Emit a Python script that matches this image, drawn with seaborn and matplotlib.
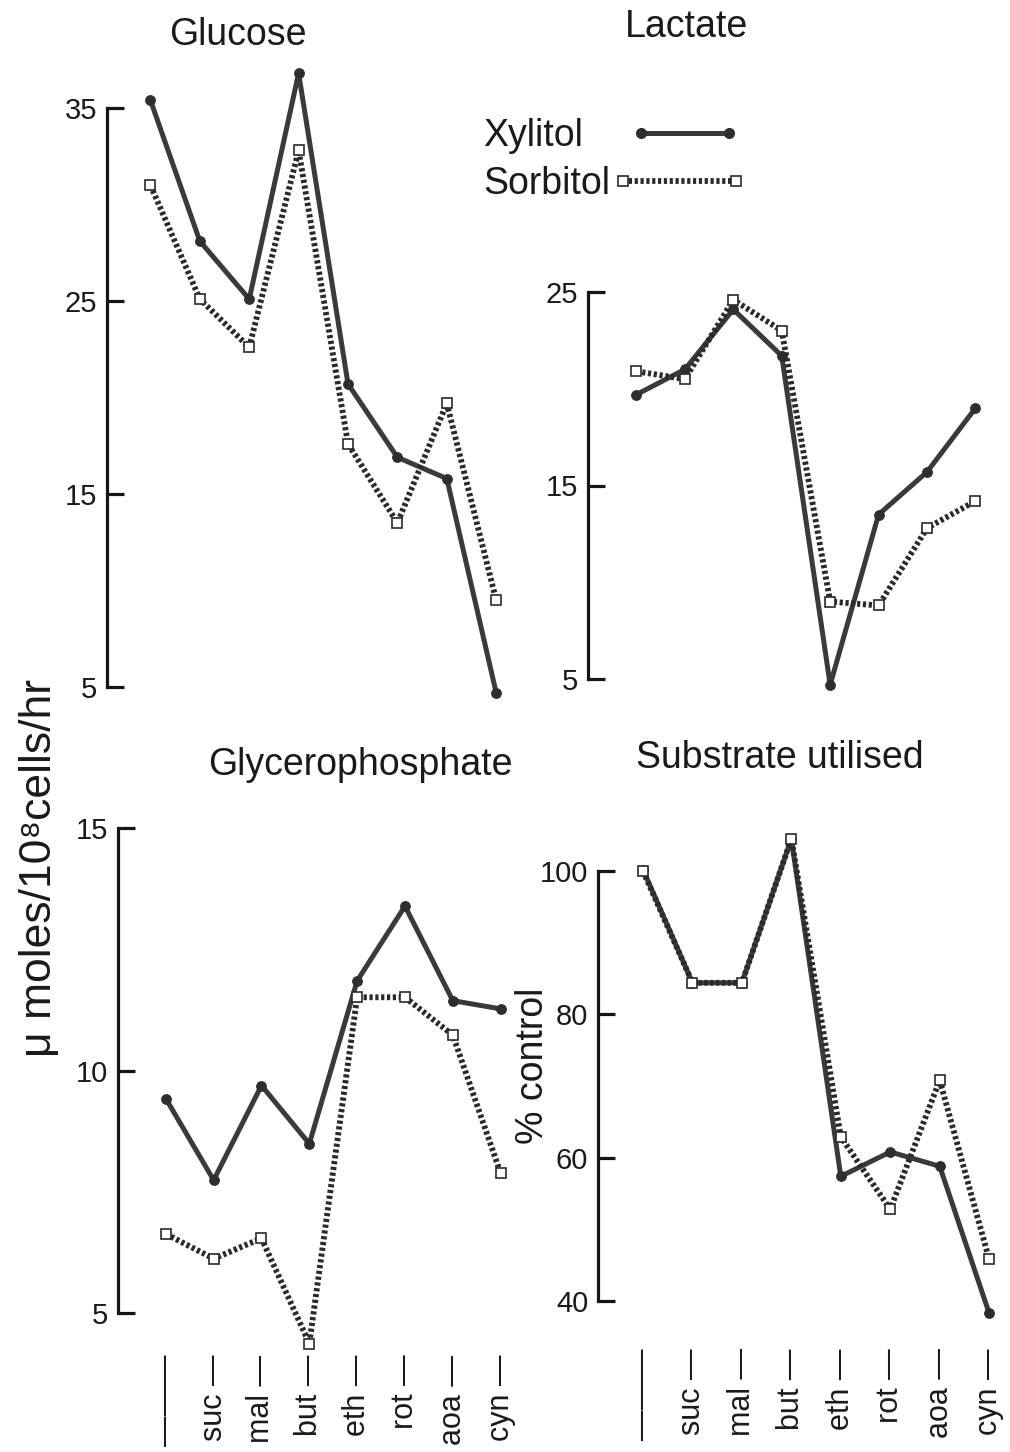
import numpy as np
import pandas as pd
import seaborn as sns
import matplotlib.pyplot as plt
from matplotlib.lines import Line2D

# treatments along the x axis (first one is the control)
treatments = ["control", "suc", "mal", "but", "eth", "rot", "aoa", "cyn"]
tick_labels = ["———", "suc —", "mal —", "but —", "eth —", "rot —", "aoa —", "cyn —"]

# values
glucose_xyl = [35.4, 28.1, 25.1, 36.8, 20.7, 16.9, 15.8, 4.7]
glucose_sor = [31.0, 25.1, 22.6, 32.8, 17.6, 13.5, 19.7, 9.5]
lactate_xyl = [19.7, 21.0, 24.1, 21.7, 4.7, 13.5, 15.7, 19.0]
lactate_sor = [20.9, 20.5, 24.6, 23.0, 9.0, 8.8, 12.8, 14.2]
glycero_xyl = [9.42, 7.74, 9.69, 8.49, 11.85, 13.39, 11.44, 11.27]
glycero_sor = [6.63, 6.12, 6.54, 4.37, 11.51, 11.51, 10.73, 7.88]
substrate_xyl = [100.2, 84.4, 84.4, 104.5, 57.4, 60.8, 58.8, 38.3]
substrate_sor = [100.0, 84.4, 84.4, 104.5, 62.9, 52.8, 70.8, 45.8]

sns.set_style("white")
plt.rcParams['font.family'] = ['Liberation Sans', 'DejaVu Sans']

W, H = 1010, 1452
fig = plt.figure(figsize=(W / 100, H / 100), dpi=100)


def add_panel(left, right, top, bottom):
    return fig.add_axes([left / W, 1 - bottom / H, (right - left) / W, (bottom - top) / H])


XYL = dict(color="#3a3a3a", lw=3.6, marker="o", ms=7, mfc="#2e2e2e", mec="#2e2e2e", clip_on=False)
SOR = dict(color="#2a2a2a", lw=4.2, ls=(0, (0.55, 0.45)), marker="s", ms=6.5, mfc="white",
           mec="#2a2a2a", mew=1.2, clip_on=False)

panels = [
    # title, xyl, sor, yticks, xlim, rect(px), title pos, show x labels, label pad
    ("Glucose", glucose_xyl, glucose_sor, [5, 15, 25, 35], (-0.88, 7.3), (107, 511, 108, 687), (238, 35), False, 0),
    ("Lactate", lactate_xyl, lactate_sor, [5, 15, 25], (-1.0, 7.3), (588, 990, 292, 679), (686, 27), False, 0),
    ("Glycerophosphate", glycero_xyl, glycero_sor, [5, 10, 15], (-1.0, 7.3), (118, 515, 828, 1313), (360, 765), True, 30),
    ("Substrate utilised", substrate_xyl, substrate_sor, [40, 60, 80, 100], (-0.91, 7.3), (598, 1004, 871, 1301), (780, 758), True, 34),
]

for title, xyl, sor, yticks, xlim, r, tpos, show_x, pad in panels:
    ax = add_panel(*r)
    df = pd.DataFrame({"pos": range(len(treatments)), "treatment": treatments,
                       "Xylitol": xyl, "Sorbitol": sor})
    sns.lineplot(data=df, x="pos", y="Xylitol", ax=ax, **XYL)
    sns.lineplot(data=df, x="pos", y="Sorbitol", ax=ax, **SOR)
    ax.set_xlim(*xlim)
    ax.set_ylim(yticks[0], yticks[-1])
    ax.set_xlabel("")
    ax.set_ylabel("")
    sns.despine(ax=ax, bottom=True)
    ax.spines["left"].set_linewidth(2.3)
    ax.spines["left"].set_color("#151515")
    ax.spines["left"].set_bounds(yticks[0], yticks[-1])
    ax.set_yticks(yticks)
    ax.tick_params(axis="y", left=True, direction="in", length=12, width=2.3, color="#151515",
                   labelsize=21, pad=7, labelcolor="#1a1a1a")
    ax.set_xticks(range(len(treatments)))
    if show_x:
        ax.set_xticklabels(tick_labels, rotation=90, fontsize=22, color="#1a1a1a")
        ax.tick_params(axis="x", bottom=False, length=0, pad=pad)
    else:
        ax.set_xticklabels([])
        ax.tick_params(axis="x", bottom=False, length=0)
    ax.patch.set_alpha(0)
    fig.text(tpos[0] / W, 1 - tpos[1] / H, title, ha="center", va="center", fontsize=27, color="#1a1a1a")

fig.text(40 / W, 1 - 868 / H, "μ moles/10⁸cells/hr", rotation=90, ha="center", va="center",
         fontsize=32, color="#1a1a1a")
fig.text(533 / W, 1 - 1066 / H, "% control", rotation=90, ha="center", va="center",
         fontsize=27, color="#1a1a1a")

# legend: two single-entry legends so each handle sits where it does in the original
legend_rows = [("Xylitol", XYL, 136, 1.25, 2.95), ("Sorbitol", SOR, 184, 0.05, 3.6)]
for label, style, yc, textpad, hlen in legend_rows:
    h = Line2D([], [], **{k: v for k, v in style.items() if k != "clip_on"})
    fig.legend([h], [label], loc="center left", bbox_to_anchor=(483 / W, 1 - yc / H),
               frameon=False, markerfirst=False, numpoints=2, handlelength=hlen,
               handletextpad=textpad, fontsize=27, borderpad=0, borderaxespad=0,
               labelcolor="#1a1a1a")

fig.savefig("out.png", dpi=100)
